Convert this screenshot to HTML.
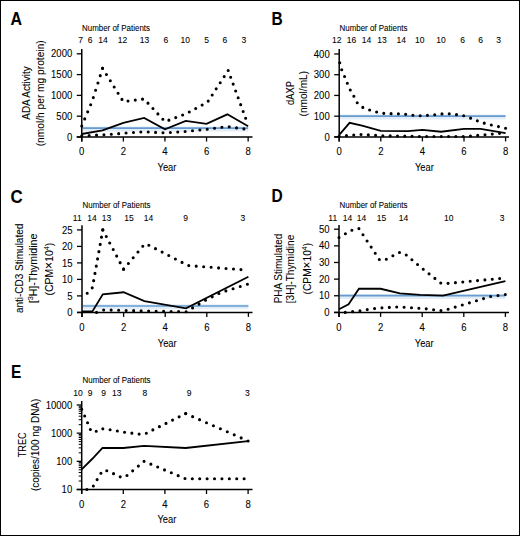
<!DOCTYPE html>
<html><head><meta charset="utf-8"><style>
html,body{margin:0;padding:0;background:#fff;}
body{width:520px;height:536px;overflow:hidden;}
svg{display:block;}
text{font-family:"Liberation Sans", sans-serif;fill:#000;stroke:#000;stroke-width:0.08px;}
</style></head><body>
<svg width="520" height="536" viewBox="0 0 520 536">
<rect x="0" y="0" width="520" height="536" fill="#fff"/>
<rect x="0.5" y="0.5" width="519" height="535" fill="none" stroke="#000" stroke-width="1"/>
<path d="M82.5 129 H248.15" stroke="#e2edf7" stroke-width="5" fill="none"/>
<path d="M82.5 128.2 H248.15" stroke="#659bd0" stroke-width="1.7" fill="none"/>
<path d="M81.75 49 V141.5" stroke="#000" stroke-width="1.5" fill="none"/>
<path d="M76.75 137 H252.5" stroke="#000" stroke-width="1.5" fill="none"/>
<path d="M76.75 137 H81.75" stroke="#000" stroke-width="1.3"/>
<text x="72.25" y="140.6" font-size="10.2" text-anchor="end" font-weight="normal" textLength="5.3" lengthAdjust="spacingAndGlyphs">0</text>
<path d="M76.75 116.2 H81.75" stroke="#000" stroke-width="1.3"/>
<text x="72.25" y="119.8" font-size="10.2" text-anchor="end" font-weight="normal" textLength="15.9" lengthAdjust="spacingAndGlyphs">500</text>
<path d="M76.75 95.4 H81.75" stroke="#000" stroke-width="1.3"/>
<text x="72.25" y="99" font-size="10.2" text-anchor="end" font-weight="normal" textLength="21.2" lengthAdjust="spacingAndGlyphs">1000</text>
<path d="M76.75 74.6 H81.75" stroke="#000" stroke-width="1.3"/>
<text x="72.25" y="78.2" font-size="10.2" text-anchor="end" font-weight="normal" textLength="21.2" lengthAdjust="spacingAndGlyphs">1500</text>
<path d="M76.75 53.8 H81.75" stroke="#000" stroke-width="1.3"/>
<text x="72.25" y="57.4" font-size="10.2" text-anchor="end" font-weight="normal" textLength="21.2" lengthAdjust="spacingAndGlyphs">2000</text>
<path d="M81.75 137 V141.5" stroke="#000" stroke-width="1.3"/>
<text x="81.75" y="155" font-size="10.2" text-anchor="middle" font-weight="normal" textLength="5.3" lengthAdjust="spacingAndGlyphs">0</text>
<path d="M123.35 137 V141.5" stroke="#000" stroke-width="1.3"/>
<text x="123.35" y="155" font-size="10.2" text-anchor="middle" font-weight="normal" textLength="5.3" lengthAdjust="spacingAndGlyphs">2</text>
<path d="M164.95 137 V141.5" stroke="#000" stroke-width="1.3"/>
<text x="164.95" y="155" font-size="10.2" text-anchor="middle" font-weight="normal" textLength="5.3" lengthAdjust="spacingAndGlyphs">4</text>
<path d="M206.55 137 V141.5" stroke="#000" stroke-width="1.3"/>
<text x="206.55" y="155" font-size="10.2" text-anchor="middle" font-weight="normal" textLength="5.3" lengthAdjust="spacingAndGlyphs">6</text>
<path d="M248.15 137 V141.5" stroke="#000" stroke-width="1.3"/>
<text x="248.15" y="155" font-size="10.2" text-anchor="middle" font-weight="normal" textLength="5.3" lengthAdjust="spacingAndGlyphs">8</text>
<path d="M81.75 134 L102.55 130.34 L123.35 122.86 L144.15 117.86 L164.95 129.3 L185.75 120.98 L206.55 123.9 L227.35 114.33 L248.15 126.18" stroke="#000" stroke-width="1.8" stroke-linejoin="miter" fill="none"/>
<path d="M81.75 125.98 L92.15 101.22 L102.55 68.36" stroke="#000" stroke-width="3.1" stroke-linecap="round" stroke-dasharray="0 7.6648" fill="none"/>
<path d="M102.55 68.36 L123.35 101.64 L144.15 98.94 L164.95 121.61 L185.75 113.91 L207.59 102.06 L228.18 70.44" stroke="#000" stroke-width="3.1" stroke-linecap="round" stroke-dasharray="0 7.3228" fill="none"/>
<path d="M228.18 70.44 L248.15 125.14" stroke="#000" stroke-width="3.1" stroke-linecap="round" stroke-dasharray="0 7.2793" fill="none"/>
<path d="M81.75 135.75 L102.55 134.92 L123.35 133.26 L144.15 131.8 L164.95 132.92 L185.75 131.38 L206.55 129.3 L227.35 126.6 L248.15 129.51" stroke="#000" stroke-width="3.1" stroke-linecap="round" stroke-dasharray="0 7.4" stroke-dashoffset="0" fill="none"/>
<text x="166.95" y="170.5" font-size="11" text-anchor="middle" font-weight="normal" textLength="18.8" lengthAdjust="spacingAndGlyphs">Year</text>
<text x="82" y="30.5" font-size="8.8" text-anchor="start" font-weight="normal" textLength="68" lengthAdjust="spacingAndGlyphs">Number of Patients</text>
<text x="80.7" y="43" font-size="8.5" text-anchor="middle" font-weight="normal">7</text>
<text x="90.2" y="43" font-size="8.5" text-anchor="middle" font-weight="normal">6</text>
<text x="103" y="43" font-size="8.5" text-anchor="middle" font-weight="normal">14</text>
<text x="122.5" y="43" font-size="8.5" text-anchor="middle" font-weight="normal">12</text>
<text x="144.5" y="43" font-size="8.5" text-anchor="middle" font-weight="normal">13</text>
<text x="165.9" y="43" font-size="8.5" text-anchor="middle" font-weight="normal">6</text>
<text x="185.3" y="43" font-size="8.5" text-anchor="middle" font-weight="normal">10</text>
<text x="206.5" y="43" font-size="8.5" text-anchor="middle" font-weight="normal">5</text>
<text x="224.9" y="43" font-size="8.5" text-anchor="middle" font-weight="normal">6</text>
<text x="243.9" y="43" font-size="8.5" text-anchor="middle" font-weight="normal">3</text>
<text transform="translate(30.2 93.05) rotate(-90)" x="0" y="0" font-size="10.8" text-anchor="middle" textLength="53.3" lengthAdjust="spacingAndGlyphs">ADA Activity</text>
<text transform="translate(44 93.3) rotate(-90)" x="0" y="0" font-size="10.8" text-anchor="middle" textLength="106" lengthAdjust="spacingAndGlyphs">(nmol/h per mg protein)</text>
<text x="10.5" y="25" font-size="17.5" text-anchor="start" font-weight="bold" textLength="11.5" lengthAdjust="spacingAndGlyphs">A</text>
<path d="M339.95 117 H505.6" stroke="#e2edf7" stroke-width="5" fill="none"/>
<path d="M339.95 116.2 H505.6" stroke="#659bd0" stroke-width="1.7" fill="none"/>
<path d="M339.2 49 V141.4" stroke="#000" stroke-width="1.5" fill="none"/>
<path d="M334.2 136.9 H509" stroke="#000" stroke-width="1.5" fill="none"/>
<path d="M334.2 136.9 H339.2" stroke="#000" stroke-width="1.3"/>
<text x="329.7" y="140.5" font-size="10.2" text-anchor="end" font-weight="normal" textLength="5.3" lengthAdjust="spacingAndGlyphs">0</text>
<path d="M334.2 116.17 H339.2" stroke="#000" stroke-width="1.3"/>
<text x="329.7" y="119.77" font-size="10.2" text-anchor="end" font-weight="normal" textLength="15.9" lengthAdjust="spacingAndGlyphs">100</text>
<path d="M334.2 95.44 H339.2" stroke="#000" stroke-width="1.3"/>
<text x="329.7" y="99.04" font-size="10.2" text-anchor="end" font-weight="normal" textLength="15.9" lengthAdjust="spacingAndGlyphs">200</text>
<path d="M334.2 74.71 H339.2" stroke="#000" stroke-width="1.3"/>
<text x="329.7" y="78.31" font-size="10.2" text-anchor="end" font-weight="normal" textLength="15.9" lengthAdjust="spacingAndGlyphs">300</text>
<path d="M334.2 53.98 H339.2" stroke="#000" stroke-width="1.3"/>
<text x="329.7" y="57.58" font-size="10.2" text-anchor="end" font-weight="normal" textLength="15.9" lengthAdjust="spacingAndGlyphs">400</text>
<path d="M339.2 136.9 V141.4" stroke="#000" stroke-width="1.3"/>
<text x="339.2" y="155" font-size="10.2" text-anchor="middle" font-weight="normal" textLength="5.3" lengthAdjust="spacingAndGlyphs">0</text>
<path d="M380.8 136.9 V141.4" stroke="#000" stroke-width="1.3"/>
<text x="380.8" y="155" font-size="10.2" text-anchor="middle" font-weight="normal" textLength="5.3" lengthAdjust="spacingAndGlyphs">2</text>
<path d="M422.4 136.9 V141.4" stroke="#000" stroke-width="1.3"/>
<text x="422.4" y="155" font-size="10.2" text-anchor="middle" font-weight="normal" textLength="5.3" lengthAdjust="spacingAndGlyphs">4</text>
<path d="M464 136.9 V141.4" stroke="#000" stroke-width="1.3"/>
<text x="464" y="155" font-size="10.2" text-anchor="middle" font-weight="normal" textLength="5.3" lengthAdjust="spacingAndGlyphs">6</text>
<path d="M505.6 136.9 V141.4" stroke="#000" stroke-width="1.3"/>
<text x="505.6" y="155" font-size="10.2" text-anchor="middle" font-weight="normal" textLength="5.3" lengthAdjust="spacingAndGlyphs">8</text>
<path d="M339.2 134.83 L349.6 122.8 L362.08 125.71 L380.8 130.78 L407.84 131.1 L422.4 129.85 L441.12 131.72 L464 128.82 L480.64 128.82 L505.6 133.17" stroke="#000" stroke-width="1.8" stroke-linejoin="miter" fill="none"/>
<path d="M339.2 60.61 L341.55 69.32 L344.61 76.58 L347.31 83.21 L350.22 89.84 L353.97 96.48 L357.5 103.32 L362.91 107.46 L370.19 110.16 L377.26 112.23 L384.54 113.48 L399.52 113.89 L407.84 114.51 L414.29 115.55 L422.4 115.76 L436.96 114.51 L445.28 113.48 L455.68 114.51 L465.04 115.96 L480.64 122.18 L488.96 124.46 L505.6 128.19" stroke="#000" stroke-width="3.1" stroke-linecap="round" stroke-dasharray="0 7.3" stroke-dashoffset="5.1" fill="none"/>
<path d="M339.2 136.28 L360 134.41 L380.8 135.66 L401.6 136.07 L422.4 136.49 L443.2 136.49 L464 136.49 L484.8 134.83 L505.6 132.75" stroke="#000" stroke-width="3.1" stroke-linecap="round" stroke-dasharray="0 7.3" stroke-dashoffset="0" fill="none"/>
<text x="424.4" y="170.5" font-size="11" text-anchor="middle" font-weight="normal" textLength="18.8" lengthAdjust="spacingAndGlyphs">Year</text>
<text x="339.5" y="30.5" font-size="8.8" text-anchor="start" font-weight="normal" textLength="68" lengthAdjust="spacingAndGlyphs">Number of Patients</text>
<text x="336.75" y="43" font-size="8.5" text-anchor="middle" font-weight="normal">12</text>
<text x="351.4" y="43" font-size="8.5" text-anchor="middle" font-weight="normal">16</text>
<text x="366.5" y="43" font-size="8.5" text-anchor="middle" font-weight="normal">14</text>
<text x="382" y="43" font-size="8.5" text-anchor="middle" font-weight="normal">13</text>
<text x="401.2" y="43" font-size="8.5" text-anchor="middle" font-weight="normal">14</text>
<text x="419.7" y="43" font-size="8.5" text-anchor="middle" font-weight="normal">10</text>
<text x="441" y="43" font-size="8.5" text-anchor="middle" font-weight="normal">10</text>
<text x="462.5" y="43" font-size="8.5" text-anchor="middle" font-weight="normal">6</text>
<text x="480.5" y="43" font-size="8.5" text-anchor="middle" font-weight="normal">6</text>
<text x="498.5" y="43" font-size="8.5" text-anchor="middle" font-weight="normal">3</text>
<text transform="translate(294.3 93.05) rotate(-90)" x="0" y="0" font-size="10.8" text-anchor="middle" textLength="23.8" lengthAdjust="spacingAndGlyphs">dAXP</text>
<text transform="translate(306.9 93.7) rotate(-90)" x="0" y="0" font-size="10.8" text-anchor="middle" textLength="45.6" lengthAdjust="spacingAndGlyphs">(nmol/mL)</text>
<text x="271.5" y="24.8" font-size="17.5" text-anchor="start" font-weight="bold" textLength="11.2" lengthAdjust="spacingAndGlyphs">B</text>
<path d="M82.75 306.8 H248.4" stroke="#e2edf7" stroke-width="5" fill="none"/>
<path d="M82.75 306 H248.4" stroke="#659bd0" stroke-width="1.7" fill="none"/>
<path d="M82 225.2 V316.9" stroke="#000" stroke-width="1.5" fill="none"/>
<path d="M77 312.4 H252.5" stroke="#000" stroke-width="1.5" fill="none"/>
<path d="M77 312.4 H82" stroke="#000" stroke-width="1.3"/>
<text x="72.5" y="316" font-size="10.2" text-anchor="end" font-weight="normal" textLength="5.3" lengthAdjust="spacingAndGlyphs">0</text>
<path d="M77 295.9 H82" stroke="#000" stroke-width="1.3"/>
<text x="72.5" y="299.5" font-size="10.2" text-anchor="end" font-weight="normal" textLength="5.3" lengthAdjust="spacingAndGlyphs">5</text>
<path d="M77 279.4 H82" stroke="#000" stroke-width="1.3"/>
<text x="72.5" y="283" font-size="10.2" text-anchor="end" font-weight="normal" textLength="10.6" lengthAdjust="spacingAndGlyphs">10</text>
<path d="M77 262.9 H82" stroke="#000" stroke-width="1.3"/>
<text x="72.5" y="266.5" font-size="10.2" text-anchor="end" font-weight="normal" textLength="10.6" lengthAdjust="spacingAndGlyphs">15</text>
<path d="M77 246.4 H82" stroke="#000" stroke-width="1.3"/>
<text x="72.5" y="250" font-size="10.2" text-anchor="end" font-weight="normal" textLength="10.6" lengthAdjust="spacingAndGlyphs">20</text>
<path d="M77 229.9 H82" stroke="#000" stroke-width="1.3"/>
<text x="72.5" y="233.5" font-size="10.2" text-anchor="end" font-weight="normal" textLength="10.6" lengthAdjust="spacingAndGlyphs">25</text>
<path d="M82 312.4 V316.9" stroke="#000" stroke-width="1.3"/>
<text x="82" y="331" font-size="10.2" text-anchor="middle" font-weight="normal" textLength="5.3" lengthAdjust="spacingAndGlyphs">0</text>
<path d="M123.6 312.4 V316.9" stroke="#000" stroke-width="1.3"/>
<text x="123.6" y="331" font-size="10.2" text-anchor="middle" font-weight="normal" textLength="5.3" lengthAdjust="spacingAndGlyphs">2</text>
<path d="M165.2 312.4 V316.9" stroke="#000" stroke-width="1.3"/>
<text x="165.2" y="331" font-size="10.2" text-anchor="middle" font-weight="normal" textLength="5.3" lengthAdjust="spacingAndGlyphs">4</text>
<path d="M206.8 312.4 V316.9" stroke="#000" stroke-width="1.3"/>
<text x="206.8" y="331" font-size="10.2" text-anchor="middle" font-weight="normal" textLength="5.3" lengthAdjust="spacingAndGlyphs">6</text>
<path d="M248.4 312.4 V316.9" stroke="#000" stroke-width="1.3"/>
<text x="248.4" y="331" font-size="10.2" text-anchor="middle" font-weight="normal" textLength="5.3" lengthAdjust="spacingAndGlyphs">8</text>
<path d="M82 311.41 L92.4 311.41 L102.8 294.25 L123.6 292.27 L144.4 301.18 L186 308.27 L248.4 276.76" stroke="#000" stroke-width="1.8" stroke-linejoin="miter" fill="none"/>
<path d="M87.2 293.26 L92.4 287.65 L102.8 229.9" stroke="#000" stroke-width="3.1" stroke-linecap="round" stroke-dasharray="0 7.3698" fill="none"/>
<path d="M102.8 229.9 L123.6 269.17" stroke="#000" stroke-width="3.1" stroke-linecap="round" stroke-dasharray="0 7.4064" fill="none"/>
<path d="M123.6 269.17 L144.82 243.76 L148.56 245.08 L188.08 265.54 L248.4 270.16" stroke="#000" stroke-width="3.1" stroke-linecap="round" stroke-dasharray="0 7.4774" fill="none"/>
<path d="M96.56 312.4 L103.84 309.92 L123.6 310.35 L144.4 311.01 L186 311.74 L206.8 299.53 L221.36 292.27 L248.4 284.02" stroke="#000" stroke-width="3.1" stroke-linecap="round" stroke-dasharray="0 7.5" stroke-dashoffset="0" fill="none"/>
<text x="167.2" y="346.5" font-size="11" text-anchor="middle" font-weight="normal" textLength="18.8" lengthAdjust="spacingAndGlyphs">Year</text>
<text x="82.5" y="207.5" font-size="8.8" text-anchor="start" font-weight="normal" textLength="68" lengthAdjust="spacingAndGlyphs">Number of Patients</text>
<text x="77.25" y="220.5" font-size="8.5" text-anchor="middle" font-weight="normal">11</text>
<text x="92.1" y="220.5" font-size="8.5" text-anchor="middle" font-weight="normal">14</text>
<text x="106.4" y="220.5" font-size="8.5" text-anchor="middle" font-weight="normal">13</text>
<text x="129.1" y="220.5" font-size="8.5" text-anchor="middle" font-weight="normal">15</text>
<text x="148.6" y="220.5" font-size="8.5" text-anchor="middle" font-weight="normal">14</text>
<text x="185.7" y="220.5" font-size="8.5" text-anchor="middle" font-weight="normal">9</text>
<text x="242.9" y="220.5" font-size="8.5" text-anchor="middle" font-weight="normal">3</text>
<text transform="translate(23 268.4) rotate(-90)" x="0" y="0" font-size="10.8" text-anchor="middle" textLength="89.4" lengthAdjust="spacingAndGlyphs">anti-CD3 Stimulated</text>
<text transform="translate(37 268.5) rotate(-90)" x="0" y="0" font-size="10.8" text-anchor="middle" textLength="69.5" lengthAdjust="spacingAndGlyphs">[<tspan font-size="7.5" dy="-4.3">3</tspan><tspan dy="4.3">H]-Thymidine</tspan></text>
<text transform="translate(52.8 269.1) rotate(-90)" x="0" y="0" font-size="10.8" text-anchor="middle" textLength="52.8" lengthAdjust="spacingAndGlyphs">(CPM<tspan font-size="12.5">×</tspan>10<tspan font-size="7.5" dy="-4.3">4</tspan><tspan dy="4.3">)</tspan></text>
<text x="10.6" y="202.6" font-size="18" text-anchor="start" font-weight="bold" textLength="12.2" lengthAdjust="spacingAndGlyphs">C</text>
<path d="M339.75 296.5 H505.4" stroke="#e2edf7" stroke-width="5" fill="none"/>
<path d="M339.75 295.7 H505.4" stroke="#659bd0" stroke-width="1.7" fill="none"/>
<path d="M339 225 V316.9" stroke="#000" stroke-width="1.5" fill="none"/>
<path d="M334 312.4 H509" stroke="#000" stroke-width="1.5" fill="none"/>
<path d="M334 312.4 H339" stroke="#000" stroke-width="1.3"/>
<text x="329.5" y="316" font-size="10.2" text-anchor="end" font-weight="normal" textLength="5.3" lengthAdjust="spacingAndGlyphs">0</text>
<path d="M334 295.76 H339" stroke="#000" stroke-width="1.3"/>
<text x="329.5" y="299.36" font-size="10.2" text-anchor="end" font-weight="normal" textLength="10.6" lengthAdjust="spacingAndGlyphs">10</text>
<path d="M334 279.12 H339" stroke="#000" stroke-width="1.3"/>
<text x="329.5" y="282.72" font-size="10.2" text-anchor="end" font-weight="normal" textLength="10.6" lengthAdjust="spacingAndGlyphs">20</text>
<path d="M334 262.48 H339" stroke="#000" stroke-width="1.3"/>
<text x="329.5" y="266.08" font-size="10.2" text-anchor="end" font-weight="normal" textLength="10.6" lengthAdjust="spacingAndGlyphs">30</text>
<path d="M334 245.84 H339" stroke="#000" stroke-width="1.3"/>
<text x="329.5" y="249.44" font-size="10.2" text-anchor="end" font-weight="normal" textLength="10.6" lengthAdjust="spacingAndGlyphs">40</text>
<path d="M334 229.2 H339" stroke="#000" stroke-width="1.3"/>
<text x="329.5" y="232.8" font-size="10.2" text-anchor="end" font-weight="normal" textLength="10.6" lengthAdjust="spacingAndGlyphs">50</text>
<path d="M339 312.4 V316.9" stroke="#000" stroke-width="1.3"/>
<text x="339" y="331" font-size="10.2" text-anchor="middle" font-weight="normal" textLength="5.3" lengthAdjust="spacingAndGlyphs">0</text>
<path d="M380.6 312.4 V316.9" stroke="#000" stroke-width="1.3"/>
<text x="380.6" y="331" font-size="10.2" text-anchor="middle" font-weight="normal" textLength="5.3" lengthAdjust="spacingAndGlyphs">2</text>
<path d="M422.2 312.4 V316.9" stroke="#000" stroke-width="1.3"/>
<text x="422.2" y="331" font-size="10.2" text-anchor="middle" font-weight="normal" textLength="5.3" lengthAdjust="spacingAndGlyphs">4</text>
<path d="M463.8 312.4 V316.9" stroke="#000" stroke-width="1.3"/>
<text x="463.8" y="331" font-size="10.2" text-anchor="middle" font-weight="normal" textLength="5.3" lengthAdjust="spacingAndGlyphs">6</text>
<path d="M505.4 312.4 V316.9" stroke="#000" stroke-width="1.3"/>
<text x="505.4" y="331" font-size="10.2" text-anchor="middle" font-weight="normal" textLength="5.3" lengthAdjust="spacingAndGlyphs">8</text>
<path d="M339 309.24 L348.57 304.25 L358.97 288.77 L380.6 288.77 L399.94 293.43 L420.12 294.93 L443 295.59 L505.4 281.12" stroke="#000" stroke-width="1.8" stroke-linejoin="miter" fill="none"/>
<path d="M339 237.52 L345.24 233.86 L351.48 230.36 L358.76 228.37 L379.56 259.82 L384.76 259.98 L399.32 252.5 L404.52 253.49 L422.2 268.47 L440.92 283.11 L447.16 283.45 L505.4 277.96" stroke="#000" stroke-width="3.1" stroke-linecap="round" stroke-dasharray="0 7.4" stroke-dashoffset="0" fill="none"/>
<path d="M345.24 312.4 L359.8 310.9 L370.2 309.07 L380.6 307.91 L397.24 306.91 L422.2 308.41 L443 310.74 L490.84 296.43 L505.4 294.43" stroke="#000" stroke-width="3.1" stroke-linecap="round" stroke-dasharray="0 7.4" stroke-dashoffset="0" fill="none"/>
<text x="424.2" y="346.5" font-size="11" text-anchor="middle" font-weight="normal" textLength="18.8" lengthAdjust="spacingAndGlyphs">Year</text>
<text x="339.5" y="207.5" font-size="8.8" text-anchor="start" font-weight="normal" textLength="68" lengthAdjust="spacingAndGlyphs">Number of Patients</text>
<text x="332.7" y="220.5" font-size="8.5" text-anchor="middle" font-weight="normal">11</text>
<text x="347.4" y="220.5" font-size="8.5" text-anchor="middle" font-weight="normal">14</text>
<text x="361.6" y="220.5" font-size="8.5" text-anchor="middle" font-weight="normal">14</text>
<text x="381.4" y="220.5" font-size="8.5" text-anchor="middle" font-weight="normal">15</text>
<text x="403.6" y="220.5" font-size="8.5" text-anchor="middle" font-weight="normal">14</text>
<text x="448.8" y="220.5" font-size="8.5" text-anchor="middle" font-weight="normal">10</text>
<text x="502.2" y="220.5" font-size="8.5" text-anchor="middle" font-weight="normal">3</text>
<text transform="translate(281.7 268.5) rotate(-90)" x="0" y="0" font-size="10.8" text-anchor="middle" textLength="69.5" lengthAdjust="spacingAndGlyphs">PHA Stimulated</text>
<text transform="translate(294 269) rotate(-90)" x="0" y="0" font-size="10.8" text-anchor="middle" textLength="68.5" lengthAdjust="spacingAndGlyphs">[3H]-Thymidine</text>
<text transform="translate(311.3 268.6) rotate(-90)" x="0" y="0" font-size="10.8" text-anchor="middle" textLength="51.6" lengthAdjust="spacingAndGlyphs">(CPM<tspan font-size="12.5">×</tspan>10<tspan font-size="7.5" dy="-4.3">4</tspan><tspan dy="4.3">)</tspan></text>
<text x="271.5" y="202.3" font-size="17.5" text-anchor="start" font-weight="bold" textLength="11.2" lengthAdjust="spacingAndGlyphs">D</text>
<path d="M81.7 401 V494" stroke="#000" stroke-width="1.5" fill="none"/>
<path d="M76.7 489.5 H252.5" stroke="#000" stroke-width="1.5" fill="none"/>
<path d="M76.7 489.5 H81.7" stroke="#000" stroke-width="1.3"/>
<text x="72.2" y="493.1" font-size="10.2" text-anchor="end" font-weight="normal" textLength="10.6" lengthAdjust="spacingAndGlyphs">10</text>
<path d="M76.7 461.33 H81.7" stroke="#000" stroke-width="1.3"/>
<text x="72.2" y="464.93" font-size="10.2" text-anchor="end" font-weight="normal" textLength="15.9" lengthAdjust="spacingAndGlyphs">100</text>
<path d="M76.7 433.16 H81.7" stroke="#000" stroke-width="1.3"/>
<text x="72.2" y="436.76" font-size="10.2" text-anchor="end" font-weight="normal" textLength="21.2" lengthAdjust="spacingAndGlyphs">1000</text>
<path d="M76.7 404.99 H81.7" stroke="#000" stroke-width="1.3"/>
<text x="72.2" y="408.59" font-size="10.2" text-anchor="end" font-weight="normal" textLength="26.5" lengthAdjust="spacingAndGlyphs">10000</text>
<path d="M78.7 481.02 H81.7" stroke="#000" stroke-width="1"/>
<path d="M78.7 476.06 H81.7" stroke="#000" stroke-width="1"/>
<path d="M78.7 472.54 H81.7" stroke="#000" stroke-width="1"/>
<path d="M78.7 469.81 H81.7" stroke="#000" stroke-width="1"/>
<path d="M78.7 467.58 H81.7" stroke="#000" stroke-width="1"/>
<path d="M78.7 465.69 H81.7" stroke="#000" stroke-width="1"/>
<path d="M78.7 464.06 H81.7" stroke="#000" stroke-width="1"/>
<path d="M78.7 462.62 H81.7" stroke="#000" stroke-width="1"/>
<path d="M78.7 452.85 H81.7" stroke="#000" stroke-width="1"/>
<path d="M78.7 447.89 H81.7" stroke="#000" stroke-width="1"/>
<path d="M78.7 444.37 H81.7" stroke="#000" stroke-width="1"/>
<path d="M78.7 441.64 H81.7" stroke="#000" stroke-width="1"/>
<path d="M78.7 439.41 H81.7" stroke="#000" stroke-width="1"/>
<path d="M78.7 437.52 H81.7" stroke="#000" stroke-width="1"/>
<path d="M78.7 435.89 H81.7" stroke="#000" stroke-width="1"/>
<path d="M78.7 434.45 H81.7" stroke="#000" stroke-width="1"/>
<path d="M78.7 424.68 H81.7" stroke="#000" stroke-width="1"/>
<path d="M78.7 419.72 H81.7" stroke="#000" stroke-width="1"/>
<path d="M78.7 416.2 H81.7" stroke="#000" stroke-width="1"/>
<path d="M78.7 413.47 H81.7" stroke="#000" stroke-width="1"/>
<path d="M78.7 411.24 H81.7" stroke="#000" stroke-width="1"/>
<path d="M78.7 409.35 H81.7" stroke="#000" stroke-width="1"/>
<path d="M78.7 407.72 H81.7" stroke="#000" stroke-width="1"/>
<path d="M78.7 406.28 H81.7" stroke="#000" stroke-width="1"/>
<path d="M81.7 489.5 V494" stroke="#000" stroke-width="1.3"/>
<text x="81.7" y="508" font-size="10.2" text-anchor="middle" font-weight="normal" textLength="5.3" lengthAdjust="spacingAndGlyphs">0</text>
<path d="M123.3 489.5 V494" stroke="#000" stroke-width="1.3"/>
<text x="123.3" y="508" font-size="10.2" text-anchor="middle" font-weight="normal" textLength="5.3" lengthAdjust="spacingAndGlyphs">2</text>
<path d="M164.9 489.5 V494" stroke="#000" stroke-width="1.3"/>
<text x="164.9" y="508" font-size="10.2" text-anchor="middle" font-weight="normal" textLength="5.3" lengthAdjust="spacingAndGlyphs">4</text>
<path d="M206.5 489.5 V494" stroke="#000" stroke-width="1.3"/>
<text x="206.5" y="508" font-size="10.2" text-anchor="middle" font-weight="normal" textLength="5.3" lengthAdjust="spacingAndGlyphs">6</text>
<path d="M248.1 489.5 V494" stroke="#000" stroke-width="1.3"/>
<text x="248.1" y="508" font-size="10.2" text-anchor="middle" font-weight="normal" textLength="5.3" lengthAdjust="spacingAndGlyphs">8</text>
<path d="M81.7 469.33 L92.1 459 L102.5 447.89 L123.3 448.01 L144.1 445.93 L185.7 448.01 L248.1 441.18" stroke="#000" stroke-width="1.8" stroke-linejoin="miter" fill="none"/>
<path d="M81.7 409.35 L84.3 415.19 L87.32 422.2 L90.02 429.1 L92.1 431.99 L94.8 432.11 L100.84 428.61 L108.32 429.43 L123.3 432.03 L138.9 434.11 L145.35 433.8 L152 430.33 L185.7 413.59" stroke="#000" stroke-width="3.1" stroke-linecap="round" stroke-dasharray="0 7.3370" fill="none"/>
<path d="M185.7 413.59 L248.1 440.93" stroke="#000" stroke-width="3.1" stroke-linecap="round" stroke-dasharray="0 7.5694" fill="none"/>
<path d="M86.9 489.5 L93.14 486.29 L102.5 470.57 L107.7 470.83 L121.22 477.35 L125.38 476.9 L144.1 461.33 L185.7 478.79 L248.1 478.79" stroke="#000" stroke-width="3.1" stroke-linecap="round" stroke-dasharray="0 7.4" stroke-dashoffset="0" fill="none"/>
<text x="166.9" y="523" font-size="11" text-anchor="middle" font-weight="normal" textLength="18.8" lengthAdjust="spacingAndGlyphs">Year</text>
<text x="82.5" y="383" font-size="8.8" text-anchor="start" font-weight="normal" textLength="68" lengthAdjust="spacingAndGlyphs">Number of Patients</text>
<text x="78" y="395.5" font-size="8.5" text-anchor="middle" font-weight="normal">10</text>
<text x="90" y="395.5" font-size="8.5" text-anchor="middle" font-weight="normal">9</text>
<text x="103.5" y="395.5" font-size="8.5" text-anchor="middle" font-weight="normal">9</text>
<text x="116.7" y="395.5" font-size="8.5" text-anchor="middle" font-weight="normal">13</text>
<text x="144.8" y="395.5" font-size="8.5" text-anchor="middle" font-weight="normal">8</text>
<text x="189" y="395.5" font-size="8.5" text-anchor="middle" font-weight="normal">9</text>
<text x="247.3" y="395.5" font-size="8.5" text-anchor="middle" font-weight="normal">3</text>
<text transform="translate(25.7 444.75) rotate(-90)" x="0" y="0" font-size="10.8" text-anchor="middle" textLength="25" lengthAdjust="spacingAndGlyphs">TREC</text>
<text transform="translate(38.7 444.85) rotate(-90)" x="0" y="0" font-size="10.8" text-anchor="middle" textLength="92.2" lengthAdjust="spacingAndGlyphs">(copies/100 ng DNA)</text>
<text x="11" y="377.8" font-size="17.5" text-anchor="start" font-weight="bold" textLength="10.3" lengthAdjust="spacingAndGlyphs">E</text>
</svg></body></html>
